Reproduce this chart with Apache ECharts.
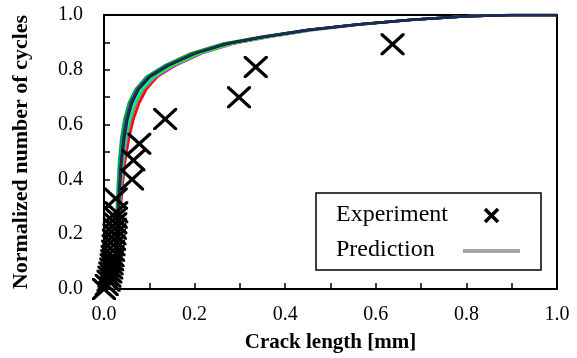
<!DOCTYPE html>
<html>
<head>
<meta charset="utf-8">
<script src="https://cdn.jsdelivr.net/npm/echarts@6/dist/echarts.min.js"></script>
<style>
  html, body { margin: 0; padding: 0; background: #fff; }
  #chart { width: 577px; height: 358px; }
</style>
</head>
<body>
<div id="chart"></div>
<script>
// experiment: crack length [mm] vs normalized cycles
const expCrack = [0.0, 0.006, 0.01, 0.012, 0.014, 0.016, 0.017, 0.018, 0.019, 0.02, 0.021, 0.022, 0.023, 0.024, 0.025, 0.026, 0.027, 0.026, 0.062, 0.065, 0.078, 0.135, 0.298, 0.335, 0.637]
const expCycles = [0.0, 0.015, 0.03, 0.045, 0.06, 0.075, 0.09, 0.105, 0.12, 0.14, 0.16, 0.18, 0.2, 0.22, 0.24, 0.26, 0.28, 0.33, 0.40, 0.47, 0.53, 0.62, 0.70, 0.81, 0.893]

// prediction: normalized cycle levels shared by all runs
const predCycles = [0, 0.12, 0.25, 0.36, 0.46, 0.55, 0.62, 0.68, 0.73, 0.775, 0.815, 0.86, 0.895, 0.92, 0.945, 0.965, 0.983, 0.995, 1.0, 1.0]

// predicted crack length of each run at those levels
const predRed = [0.028, 0.031, 0.035, 0.040, 0.046, 0.055, 0.065, 0.078, 0.094, 0.118, 0.156, 0.212, 0.278, 0.355, 0.452, 0.560, 0.680, 0.800, 0.900, 1.0]
const predMagenta = [0.027, 0.030, 0.034, 0.038, 0.043, 0.051, 0.060, 0.072, 0.089, 0.116, 0.157, 0.216, 0.285, 0.364, 0.462, 0.567, 0.684, 0.803, 0.902, 1.0]
const predLime = [0.026, 0.030, 0.033, 0.037, 0.042, 0.049, 0.058, 0.070, 0.086, 0.112, 0.152, 0.212, 0.282, 0.362, 0.460, 0.566, 0.684, 0.803, 0.902, 1.0]
const predCyan = [0.026, 0.029, 0.032, 0.036, 0.040, 0.046, 0.054, 0.065, 0.080, 0.105, 0.144, 0.202, 0.271, 0.351, 0.451, 0.561, 0.681, 0.801, 0.900, 1.0]
const predPurple = [0.025, 0.028, 0.031, 0.035, 0.039, 0.045, 0.052, 0.062, 0.077, 0.102, 0.141, 0.199, 0.269, 0.350, 0.450, 0.560, 0.680, 0.800, 0.900, 1.0]
const predBlue = [0.024, 0.027, 0.030, 0.033, 0.037, 0.042, 0.049, 0.059, 0.074, 0.098, 0.138, 0.197, 0.268, 0.349, 0.449, 0.559, 0.680, 0.800, 0.900, 1.0]
const predOrange = [0.025, 0.028, 0.031, 0.034, 0.038, 0.043, 0.050, 0.059, 0.073, 0.096, 0.134, 0.190, 0.262, 0.344, 0.447, 0.558, 0.680, 0.800, 0.900, 1.0]
const predTeal = [0.022, 0.025, 0.027, 0.030, 0.033, 0.038, 0.045, 0.055, 0.070, 0.094, 0.133, 0.192, 0.262, 0.345, 0.447, 0.558, 0.678, 0.800, 0.900, 1.0]
const predBlack = [0.025, 0.028, 0.031, 0.034, 0.038, 0.044, 0.051, 0.061, 0.076, 0.101, 0.141, 0.201, 0.271, 0.350, 0.450, 0.560, 0.680, 0.800, 0.900, 1.0]
const predNavy = [0.025, 0.028, 0.031, 0.034, 0.038, 0.043, 0.050, 0.060, 0.075, 0.100, 0.140, 0.200, 0.270, 0.350, 0.450, 0.560, 0.680, 0.800, 0.900, 1.0]

const runs = [
  { name: 'run1', color: '#ff0000', xs: predRed },
  { name: 'run2', color: '#ff00ff', xs: predMagenta },
  { name: 'run3', color: '#00ff00', xs: predLime },
  { name: 'run4', color: '#00e5ff', xs: predCyan },
  { name: 'run5', color: '#7030a0', xs: predPurple },
  { name: 'run6', color: '#0000ff', xs: predBlue },
  { name: 'run7', color: '#ffb000', xs: predOrange },
  { name: 'run8', color: '#00a050', xs: predTeal },
  { name: 'run9', color: '#000000', xs: predBlack },
  { name: 'run10', color: '#1f2a5c', xs: predNavy }
]

const font = '"Liberation Serif", "Times New Roman", serif'
const crossPath = 'path://M0,0 L2,0 L10,8 L18,0 L20,0 L20,2 L12,10 L20,18 L20,20 L18,20 L10,12 L2,20 L0,20 L0,18 L8,10 L0,2 Z'

const chart = echarts.init(document.getElementById('chart'))

const lineSeries = runs.map((r) => ({
  name: r.name,
  type: 'line',
  data: r.xs.map((x, i) => [x, predCycles[i]]),
  showSymbol: false,
  symbol: 'none',
  lineStyle: { color: r.color, width: 2.5 },
  z: 2
}))

const tickStyle = { color: '#000', width: 1.5 }

// frame lines on top/right: extra axes with line only
const frameAxis = {
  type: 'value',
  min: 0,
  max: 1,
  axisLine: { show: true, onZero: false, lineStyle: { color: '#000', width: 2 } },
  axisTick: { show: false },
  axisLabel: { show: false },
  splitLine: { show: false }
}

const option = {
  animation: false,
  grid: { left: 104, right: 20, top: 15, bottom: 63, show: false },
  xAxis: [
    {
      type: 'value',
      min: 0,
      max: 1,
      interval: 0.2,
      position: 'bottom',
      name: 'Crack length [mm]',
      nameLocation: 'middle',
      nameGap: 43,
      nameTextStyle: { fontFamily: font, fontSize: 21, fontWeight: 'bold', color: '#000' },
      axisLine: { show: true, onZero: false, lineStyle: { color: '#000', width: 2 } },
      axisTick: { show: true, inside: true, length: 6, lineStyle: tickStyle },
      minorTick: { show: true, splitNumber: 2, length: 6, lineStyle: tickStyle },
      splitLine: { show: false },
      axisLabel: {
        margin: 16,
        fontFamily: font,
        fontSize: 20,
        color: '#000',
        formatter: (v) => v.toFixed(1)
      }
    },
    { ...frameAxis, position: 'top' }
  ],
  yAxis: [
    {
      type: 'value',
      min: 0,
      max: 1,
      interval: 0.2,
      position: 'left',
      name: 'Normalized number of cycles',
      nameLocation: 'middle',
      nameGap: 72,
      nameTextStyle: { fontFamily: font, fontSize: 22, fontWeight: 'bold', color: '#000' },
      axisLine: { show: true, onZero: false, lineStyle: { color: '#000', width: 2 } },
      axisTick: { show: true, inside: true, length: 6, lineStyle: tickStyle },
      minorTick: { show: true, splitNumber: 2, length: 6, lineStyle: tickStyle },
      splitLine: { show: false },
      axisLabel: {
        margin: 21,
        fontFamily: font,
        fontSize: 20,
        color: '#000',
        formatter: (v) => v.toFixed(1)
      }
    },
    { ...frameAxis, position: 'right' }
  ],
  series: [
    ...lineSeries,
    {
      name: 'Experiment',
      type: 'scatter',
      data: expCrack.map((x, i) => [x, expCycles[i]]),
      symbol: crossPath,
      symbolSize: [24, 22],
      itemStyle: { color: '#000', opacity: 1 },
      z: 3
    }
  ],
  // legend box drawn by hand: text first, key after it
  graphic: [
    {
      type: 'rect',
      shape: { x: 316, y: 193, width: 225, height: 77 },
      style: { fill: '#fff', stroke: '#000', lineWidth: 1.5 },
      z: 10
    },
    {
      type: 'text',
      x: 336,
      y: 215,
      style: { text: 'Experiment', font: '24px ' + font, fill: '#000', verticalAlign: 'middle' },
      z: 11
    },
    {
      type: 'text',
      x: 336,
      y: 250,
      style: { text: 'Prediction', font: '24px ' + font, fill: '#000', verticalAlign: 'middle' },
      z: 11
    },
    {
      type: 'line',
      shape: { x1: 485, y1: 209, x2: 498, y2: 222 },
      style: { stroke: '#000', lineWidth: 3.5 },
      z: 11
    },
    {
      type: 'line',
      shape: { x1: 485, y1: 222, x2: 498, y2: 209 },
      style: { stroke: '#000', lineWidth: 3.5 },
      z: 11
    },
    {
      type: 'line',
      shape: { x1: 463, y1: 251, x2: 520, y2: 251 },
      style: { stroke: '#a6a6a6', lineWidth: 4 },
      z: 11
    }
  ]
}

chart.setOption(option)
window.addEventListener('resize', () => chart.resize())
</script>
</body>
</html>
